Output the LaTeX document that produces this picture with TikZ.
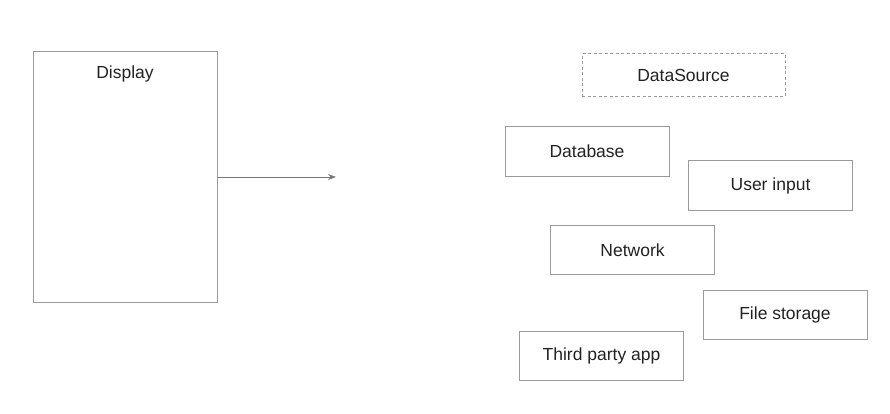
\documentclass[tikz,border=0pt]{standalone}
\usepackage{fontspec}
\setmainfont{Liberation Sans}
\usetikzlibrary{arrows.meta}
\definecolor{boxgray}{HTML}{9A9A9A}
\definecolor{arrowgray}{HTML}{777777}
\definecolor{txt}{HTML}{222222}
\begin{document}
\begin{tikzpicture}[x=1pt,y=-1pt,
  srcbox/.style={draw=boxgray,line width=1pt,rectangle,minimum width=164pt,minimum height=49pt,inner sep=0pt,text=txt,font=\fontsize{17.5}{20}\selectfont},
  dashbox/.style={srcbox,dashed,dash pattern=on 3pt off 2.5pt,minimum width=203pt,minimum height=43pt},
  conn/.style={draw=arrowgray,line width=0.9pt,-{Stealth[length=8pt,width=6pt]}}]
\useasboundingbox (0,0) rectangle (890,414);
\fill[white] (0,0) rectangle (890,414);
\node[srcbox,minimum width=184pt,minimum height=250pt] (display) at (125,177) {};
\node[anchor=north,text=txt,font=\fontsize{17.5}{20}\selectfont,inner sep=0pt] (displaylabel) at ([yshift=-14.5pt]display.north) {Display};
\coordinate (arrowend) at (336,177);
\draw[conn] (display.east) -- (arrowend);
\node[dashbox] (datasource) at (683.5,75.5) {DataSource};
\node[srcbox] (database) at (587,151.5) {Database};
\node[srcbox] (userinput) at (770.5,185.5) {User input};
\node[srcbox] (network) at (632.5,250) {Network};
\node[srcbox] (filestorage) at (785,314.5) {File storage};
\node[srcbox] (thirdparty) at (601.5,356) {Third party app};
\end{tikzpicture}
\end{document}
